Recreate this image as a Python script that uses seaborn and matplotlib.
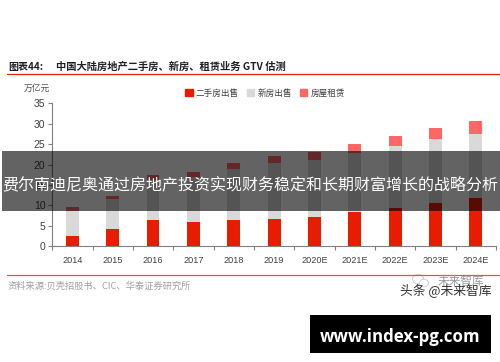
import matplotlib
matplotlib.use('Agg')
import matplotlib.pyplot as plt
import pandas as pd
import seaborn as sns
from matplotlib.patches import Rectangle, Patch, Ellipse
from matplotlib.lines import Line2D

# 数据
anos = ['2014', '2015', '2016', '2017', '2018', '2019', '2020E', '2021E', '2022E', '2023E', '2024E']
ershou = [2.5, 4.15, 6.5, 5.95, 6.35, 6.6, 7.25, 8.3, 9.3, 10.7, 11.9]
xinfang = [6.2, 7.35, 9.8, 10.95, 12.65, 13.9, 13.85, 14.5, 15.3, 15.5, 15.6]
zulin = [1.0, 0.9, 1.1, 1.3, 1.5, 1.7, 2.0, 2.2, 2.5, 2.8, 3.1]
yticks = [0, 5, 10, 15, 20, 25, 30, 35]

COR_VERMELHO = '#E81C00'
COR_CINZA = '#D9D9D9'
COR_ROSA = '#FF6666'
CJK = ['Noto Sans CJK SC', 'DejaVu Sans']

sns.set_theme(style='ticks')
plt.rcParams['font.family'] = ['Liberation Sans', 'DejaVu Sans']

df = pd.DataFrame({'ano': anos, 'ershou': ershou, 'xinfang': xinfang, 'zulin': zulin})
df['base2'] = df['ershou']
df['base3'] = df['ershou'] + df['xinfang']

W, H = 500, 362
fig = plt.figure(figsize=(W / 100, H / 100), dpi=100, facecolor='white')
ax = fig.add_axes([52.3 / W, 1 - 246.3 / H, (496 - 52.3) / W, 143 / H])

estilo = dict(saturation=1, width=0.315, linewidth=0, edgecolor='none', ax=ax)
sns.barplot(data=df, x='ano', y='ershou', color=COR_VERMELHO, **estilo)
sns.barplot(data=df, x='ano', y='xinfang', bottom=df['base2'], color=COR_CINZA, **estilo)
sns.barplot(data=df, x='ano', y='zulin', bottom=df['base3'], color=COR_ROSA, **estilo)

ax.set_xlim(-0.5, 10.5)
ax.set_ylim(0, 35)
ax.set_xlabel('')
ax.set_ylabel('')
ax.set_yticks(yticks)
ax.tick_params(axis='y', labelsize=7.5, length=3, width=0.8, color='#808080', labelcolor='#404040', pad=2)
ax.tick_params(axis='x', which='major', labelsize=6.6, length=0, labelcolor='#404040', pad=7)
ax.set_xticks([i - 0.5 for i in range(12)], minor=True)
ax.tick_params(axis='x', which='minor', length=3, width=0.8, color='#808080')
for lado in ['top', 'right']:
    ax.spines[lado].set_visible(False)
for lado in ['left', 'bottom']:
    ax.spines[lado].set_color('#808080')
    ax.spines[lado].set_linewidth(0.8)

# legenda
handles = [Patch(color=COR_VERMELHO), Patch(color=COR_CINZA), Patch(color=COR_ROSA)]
fig.legend(handles, ['二手房出售', '新房出售', '房屋租赁'], ncol=3, frameon=False,
           loc='center', bbox_to_anchor=(265 / W, 1 - 93 / H),
           prop={'family': CJK, 'size': 6.2}, labelcolor='#404040',
           handlelength=0.9, handleheight=0.9, handletextpad=0.35, columnspacing=0.9)


def px_texto(x, y, s, **kw):
    kw.setdefault('family', CJK)
    kw.setdefault('va', 'center')
    return fig.text(x / W, 1 - y / H, s, **kw)


# titulo e rodape
px_texto(8, 67, '图表44:', fontsize=7.2, fontweight='bold', color='#202020')
px_texto(56, 67, '中国大陆房地产二手房、新房、租赁业务 GTV 估测', fontsize=7.4, fontweight='bold', color='#202020')
px_texto(24, 88.5, '万亿元', fontsize=6.3, color='#505050')
px_texto(8, 286.5, '资料来源:贝壳招股书、CIC、华泰证券研究所', fontsize=6.7, color='#A0A0A0')
fig.add_artist(Line2D([7 / W, 1], [1 - 74 / H] * 2, color='#E8200E', lw=0.9))
fig.add_artist(Line2D([7 / W, 1], [1 - 274.7 / H] * 2, color='#F0503C', lw=0.9))

# marcas d'agua
for cx, cy, rx in [(418, 279, 5.5), (424, 283, 4.5)]:
    fig.add_artist(Ellipse((cx / W, 1 - cy / H), 2 * rx / W, 1.7 * rx / H, transform=fig.transFigure,
                           facecolor='white', edgecolor='#D0D0D0', linewidth=0.7))
px_texto(438, 281.5, '未来智库', fontsize=8.4, color='#999999')
px_texto(400, 291.5, '头条 @未来智库', fontsize=9.2, color='#333333')

# faixa escura por cima do grafico
fig.add_artist(Rectangle((2 / W, 1 - 210.7 / H), 498 / W, 59.7 / H, transform=fig.transFigure,
                         facecolor='black', alpha=0.61, edgecolor='none', zorder=5))
px_texto(250, 184.5, '费尔南迪尼奥通过房地产投资实现财务稳定和长期财富增长的战略分析',
         fontsize=11.5, fontweight='medium', color='white', ha='center', zorder=6)

# caixa preta
fig.add_artist(Rectangle((310 / W, 1 - 352.7 / H), 181 / W, 37.7 / H, transform=fig.transFigure,
                         facecolor='black', edgecolor='none', zorder=5))
px_texto(400.5, 336.5, 'www.index-pg.com', family='Open Sans', fontsize=12.2, fontweight='bold',
         color='white', ha='center', zorder=6)

plt.savefig('out.png', dpi=100)
